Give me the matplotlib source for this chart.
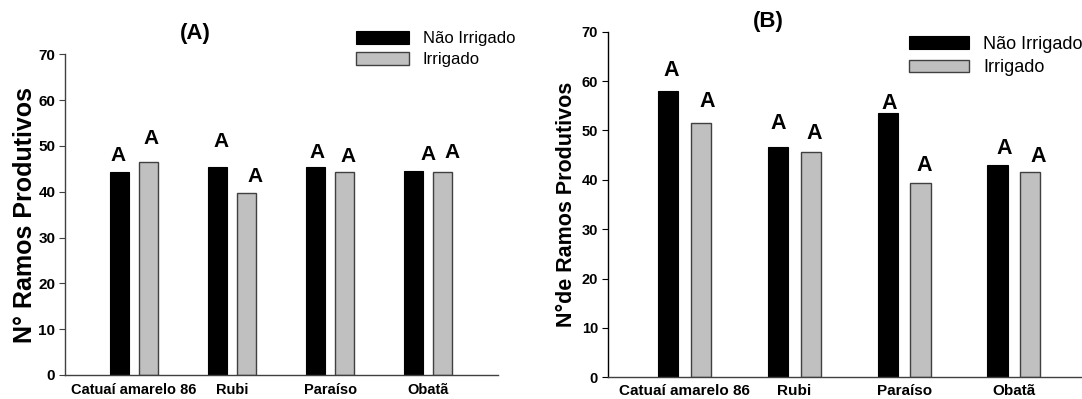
import matplotlib
matplotlib.use("Agg")
import matplotlib.pyplot as plt
import numpy as np

plt.rcParams['font.family'] = ['Liberation Sans', 'DejaVu Sans']

cultivares = ['Catuaí amarelo 86', 'Rubi', 'Paraíso', 'Obatã']
series = ['Não Irrigado', 'Irrigado']

# panel A
a_nao_irrigado = [44.2, 45.3, 45.4, 44.5]
a_irrigado = [46.6, 39.7, 44.2, 44.4]
a_letras_nao = ['A', 'A', 'A', 'A']
a_letras_irr = ['A', 'A', 'A', 'A']

# panel B
b_nao_irrigado = [58.0, 46.6, 53.5, 43.0]
b_irrigado = [51.5, 45.7, 39.4, 41.6]
b_letras_nao = ['A', 'A', 'A', 'A']
b_letras_irr = ['A', 'A', 'A', 'A']

# where the letters sit (data units): x offset from bar, y centre
a_letra_dx_nao = [-0.01, 0.04, 0.015, 0.15]
a_letra_dx_irr = [0.03, 0.09, 0.03, 0.09]
a_letra_y_nao = [48.0, 50.9, 48.5, 48.2]
a_letra_y_irr = [51.7, 43.4, 47.7, 48.5]
b_letra_dx_nao = [0.03, 0.0, 0.015, 0.065]
b_letra_dx_irr = [0.06, 0.035, 0.035, 0.07]
b_letra_y_nao = [62.2, 51.4, 55.5, 46.4]
b_letra_y_irr = [55.8, 49.4, 42.8, 44.7]

fig = plt.figure(figsize=(10.82, 3.99), dpi=100)
axA = fig.add_axes([0.0601, 0.0602, 0.4002, 0.8037])
axB = fig.add_axes([0.5616, 0.0544, 0.4384, 0.8662])

edge = '#404040'


def draw(ax, nao, irr, w, off, lab_nao, lab_irr, dxn, dxi, yn, yi, lsize, xlim):
    x = np.arange(len(cultivares))
    ax.bar(x - off, nao, w, color='black', edgecolor='black', linewidth=0.8,
           label=series[0], zorder=2)
    ax.bar(x + off, irr, w, color='#c0c0c0', edgecolor=edge, linewidth=1.0,
           label=series[1], zorder=2)
    for i in range(len(x)):
        ax.text(x[i] - off + dxn[i], yn[i], lab_nao[i], ha='center', va='center',
                fontsize=lsize, fontweight='bold')
        ax.text(x[i] + off + dxi[i], yi[i], lab_irr[i], ha='center', va='center',
                fontsize=lsize, fontweight='bold')
    ax.set_xlim(*xlim)
    ax.set_ylim(0, 70)
    ax.set_yticks(np.arange(0, 71, 10))
    ax.set_xticks(x)
    ax.set_xticklabels(cultivares)
    for s in ['top', 'right']:
        ax.spines[s].set_visible(False)
    for s in ['left', 'bottom']:
        ax.spines[s].set_color(edge)
        ax.spines[s].set_linewidth(1.0)
    for t in ax.get_yticklabels() + ax.get_xticklabels():
        t.set_fontweight('bold')
    return x


xa = draw(axA, a_nao_irrigado, a_irrigado, 0.194, 0.148, a_letras_nao, a_letras_irr,
          a_letra_dx_nao, a_letra_dx_irr, a_letra_y_nao, a_letra_y_irr, 15, (-0.70, 3.71))
axA.tick_params(axis='y', direction='out', length=4, labelsize=11, pad=3, color=edge)
axA.tick_params(axis='x', length=0, labelsize=10.5, pad=6)
axA.set_xticks([0, 2], minor=True)
axA.tick_params(axis='x', which='minor', length=4, direction='out', color=edge)
axA.set_ylabel('N° Ramos Produtivos', fontsize=18, fontweight='bold', labelpad=1)
fig.text(195 / 1082, 1 - 33 / 399, '(A)', ha='center', va='center',
         fontsize=16, fontweight='bold')
axA.legend(loc='upper left', bbox_to_anchor=(356 / 1082, 1 - 31 / 399),
           bbox_transform=fig.transFigure, frameon=False, fontsize=12,
           borderpad=0, borderaxespad=0, handlelength=3.2, handleheight=0.8,
           handletextpad=0.8, labelspacing=0.35)

xb = draw(axB, b_nao_irrigado, b_irrigado, 0.185, 0.149, b_letras_nao, b_letras_irr,
          b_letra_dx_nao, b_letra_dx_irr, b_letra_y_nao, b_letra_y_irr, 15.5, (-0.70, 3.62))
axB.spines['left'].set_color('black')
axB.tick_params(axis='y', direction='out', length=4, labelsize=10.5, pad=3)
axB.tick_params(axis='x', length=0, labelsize=11, pad=5)
axB.set_ylabel('N°de Ramos Produtivos', fontsize=15.5, fontweight='bold', labelpad=3)
fig.text(768 / 1082, 1 - 22 / 399, '(B)', ha='center', va='center',
         fontsize=16, fontweight='bold')
axB.legend(loc='upper left', bbox_to_anchor=(909 / 1082, 1 - 36 / 399),
           bbox_transform=fig.transFigure, frameon=False, fontsize=13,
           borderpad=0, borderaxespad=0, handlelength=3.3, handleheight=0.7,
           handletextpad=0.8, labelspacing=0.35)

fig.savefig('out.png', dpi=100)
